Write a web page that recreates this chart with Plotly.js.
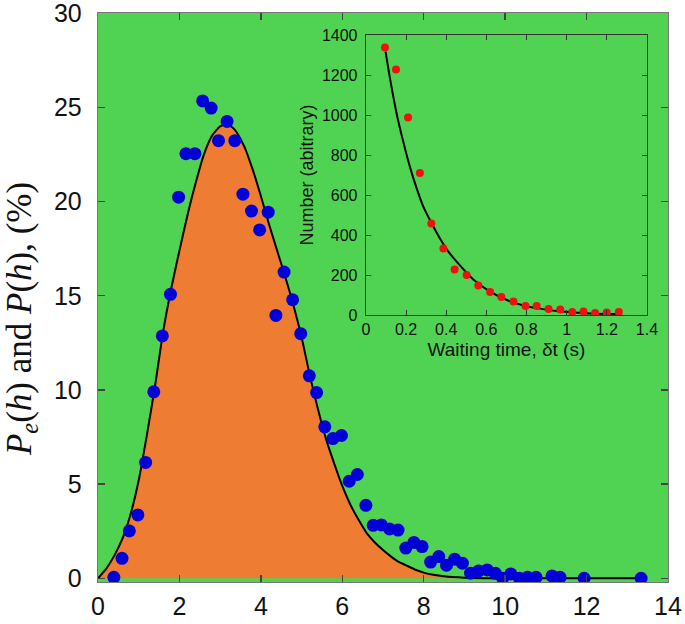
<!DOCTYPE html>
<html>
<head>
<meta charset="utf-8">
<script src="https://cdn.plot.ly/plotly-3.0.1.min.js"></script>
<style>
  html, body { margin: 0; padding: 0; background: #ffffff; }
  #chart { width: 685px; height: 624px; }
</style>
</head>
<body>
<div id="chart"></div>
<script>
// Main plot: measured distribution (blue dots)
const hData = [0.39, 0.59, 0.77, 0.98, 1.17, 1.37, 1.58, 1.78, 1.98, 2.16, 2.38, 2.57, 2.78, 2.96, 3.17, 3.36, 3.56, 3.77, 3.97, 4.18,
  4.37, 4.57, 4.78, 4.98, 5.19, 5.37, 5.57, 5.77, 5.98, 6.17, 6.37, 6.58, 6.76, 6.96, 7.16, 7.37, 7.56, 7.76, 7.96, 8.17,
  8.37, 8.56, 8.76, 8.95, 9.15, 9.35, 9.56, 9.76, 9.94, 10.14, 10.35, 10.55, 10.76, 11.15, 11.35, 11.94, 13.34];
const pData = [0.05, 1.06, 2.51, 3.36, 6.15, 9.9, 12.87, 15.08, 20.24, 22.55, 22.55, 25.35, 24.97, 23.24, 24.26, 23.24, 20.4, 19.5, 18.5, 19.44,
  13.96, 16.26, 14.79, 12.99, 10.75, 9.86, 8.04, 7.42, 7.58, 5.15, 5.51, 3.87, 2.81, 2.83, 2.62, 2.56, 1.6, 1.9, 1.68, 0.86,
  1.15, 0.69, 1.01, 0.8, 0.27, 0.39, 0.44, 0.26, 0.0, 0.23, 0.0, 0.05, 0.05, 0.12, 0.05, 0.0, 0.0];

// Main plot: model curve (black line, orange fill)
const hCurve = [0, 0.2, 0.4, 0.6, 0.8, 1.0, 1.2, 1.4, 1.6, 1.8, 2.0, 2.2, 2.4, 2.6, 2.8, 3.0, 3.15, 3.3, 3.4, 3.6, 3.8,
  4.0, 4.2, 4.4, 4.6, 4.8, 5.0, 5.2, 5.4, 5.6, 5.8, 6.0, 6.2, 6.4, 6.6, 6.8, 7.0, 7.2, 7.4, 7.6, 7.8, 8.0, 8.2, 8.5, 9.0, 10.0, 13.4];
const peCurve = [0, 0.5, 1.2, 2.1, 3.4, 5.2, 7.6, 10.2, 13.1, 15.4, 17.4, 19.3, 21.0, 22.5, 23.5, 24.0, 24.1, 23.95, 23.7, 22.9, 21.7,
  20.3, 18.8, 17.4, 16.0, 14.5, 12.8, 10.8, 9.0, 7.4, 6.1, 4.9, 3.9, 3.1, 2.4, 1.9, 1.5, 1.15, 0.85, 0.65, 0.45, 0.3, 0.2, 0.1, 0.03, 0, 0];

// Inset: waiting-time histogram (red dots)
const dtData = [0.095, 0.150, 0.210, 0.269, 0.326, 0.386, 0.442, 0.502, 0.560, 0.619, 0.675, 0.735, 0.795, 0.851, 0.910, 0.968, 1.028, 1.084, 1.142, 1.200, 1.260];
const nData = [1338, 1228, 987, 710, 458, 333, 228, 200, 148, 115, 90, 67, 45, 45, 30, 28, 15, 17, 10, 12, 15];

// Inset: fitted decay (black line)
const dtFit = [0.098, 0.12, 0.153, 0.186, 0.219, 0.253, 0.286, 0.328, 0.369, 0.411, 0.452, 0.535, 0.619, 0.702, 0.785, 0.868, 0.951, 1.034, 1.117, 1.26];
const nFit = [1317, 1183, 1008, 867, 742, 633, 542, 458, 383, 317, 267, 178, 117, 75, 48, 32, 20, 13, 8, 5];

const mainTicksX = [0, 2, 4, 6, 8, 10, 12, 14];
const mainTicksY = [0, 5, 10, 15, 20, 25, 30];
const insetTicksX = [0, 0.2, 0.4, 0.6, 0.8, 1, 1.2, 1.4];
const insetTicksY = [0, 200, 400, 600, 800, 1000, 1200, 1400];
const yTitle = '<i>P</i><sub><i>e</i></sub>(<i>h</i>) and <i>P</i>(<i>h</i>), (%)';

const GREEN = '#50d352';
const ORANGE = '#ee7d33';
const BLUE = '#0000d6';
const RED = '#f01010';
const SANS = 'Liberation Sans, Arial, sans-serif';
const SERIF = 'Liberation Serif, Times New Roman, serif';

const traces = [
  {
    x: hCurve, y: peCurve, type: 'scatter', mode: 'lines',
    line: { color: '#000000', width: 2, shape: 'spline', smoothing: 0.6 },
    fill: 'tozeroy', fillcolor: ORANGE,
    xaxis: 'x', yaxis: 'y', hoverinfo: 'skip'
  },
  {
    x: hData, y: pData, type: 'scatter', mode: 'markers',
    marker: { color: BLUE, size: 13, line: { width: 0 } },
    xaxis: 'x', yaxis: 'y'
  },
  {
    x: dtFit, y: nFit, type: 'scatter', mode: 'lines',
    line: { color: '#000000', width: 2, shape: 'spline', smoothing: 0.6 },
    xaxis: 'x2', yaxis: 'y2', hoverinfo: 'skip'
  },
  {
    x: dtData, y: nData, type: 'scatter', mode: 'markers',
    marker: { color: RED, size: 8, line: { width: 0 } },
    xaxis: 'x2', yaxis: 'y2'
  }
];

const layout = {
  width: 685, height: 624,
  margin: { l: 98, r: 17, t: 13, b: 42, pad: 0 },
  paper_bgcolor: '#ffffff',
  plot_bgcolor: GREEN,
  showlegend: false,
  font: { family: SANS, color: '#111111' },
  xaxis: {
    range: [0, 14], tickvals: mainTicksX, ticktext: mainTicksX.map(String),
    ticks: 'inside', ticklen: 7, tickwidth: 1.3, tickcolor: '#444444',
    showline: true, linecolor: '#777777', linewidth: 1.3, mirror: 'ticks',
    showgrid: false, zeroline: false,
    tickfont: { family: SANS, size: 25, color: '#111111' },
    ticklabelstandoff: 2, ticklabeloverflow: 'allow'
  },
  yaxis: {
    range: [-0.2, 30.02], tickvals: mainTicksY, ticktext: mainTicksY.map(String),
    ticks: 'inside', ticklen: 7, tickwidth: 1.3, tickcolor: '#444444',
    showline: true, linecolor: '#777777', linewidth: 1.3, mirror: 'ticks',
    showgrid: false, zeroline: false,
    tickfont: { family: SANS, size: 25, color: '#111111' },
    ticklabelstandoff: 10, ticklabeloverflow: 'allow'
  },
  xaxis2: {
    domain: [0.470, 0.963], anchor: 'y2',
    range: [0, 1.4], tickvals: insetTicksX, ticktext: insetTicksX.map(String),
    ticks: 'inside', ticklen: 5, tickwidth: 1, tickcolor: '#333333',
    showline: true, linecolor: '#333333', linewidth: 1.2, mirror: 'ticks',
    showgrid: false, zeroline: false,
    tickfont: { family: SANS, size: 16, color: '#111111' },
    title: { text: 'Waiting time, δt (s)', font: { family: SANS, size: 19, color: '#111111' }, standoff: 5 }
  },
  yaxis2: {
    domain: [0.4692, 0.9613], anchor: 'x2',
    range: [0, 1400], tickvals: insetTicksY, ticktext: insetTicksY.map(String),
    ticks: 'inside', ticklen: 5, tickwidth: 1, tickcolor: '#333333',
    showline: true, linecolor: '#333333', linewidth: 1.2, mirror: 'ticks',
    showgrid: false, zeroline: false,
    tickfont: { family: SANS, size: 16, color: '#111111' },
    ticklabelstandoff: 4,
    title: { text: 'Number (abitrary)', font: { family: SANS, size: 18, color: '#111111' }, standoff: 3 }
  },
  annotations: [{
    text: yTitle, textangle: -90,
    xref: 'paper', yref: 'paper', x: 0, y: 0.462,
    xanchor: 'center', yanchor: 'middle', xshift: -77,
    showarrow: false,
    font: { family: SERIF, size: 35, color: '#111111' }
  }]
};

Plotly.newPlot('chart', traces, layout, { displayModeBar: false, staticPlot: true });
</script>
</body>
</html>
